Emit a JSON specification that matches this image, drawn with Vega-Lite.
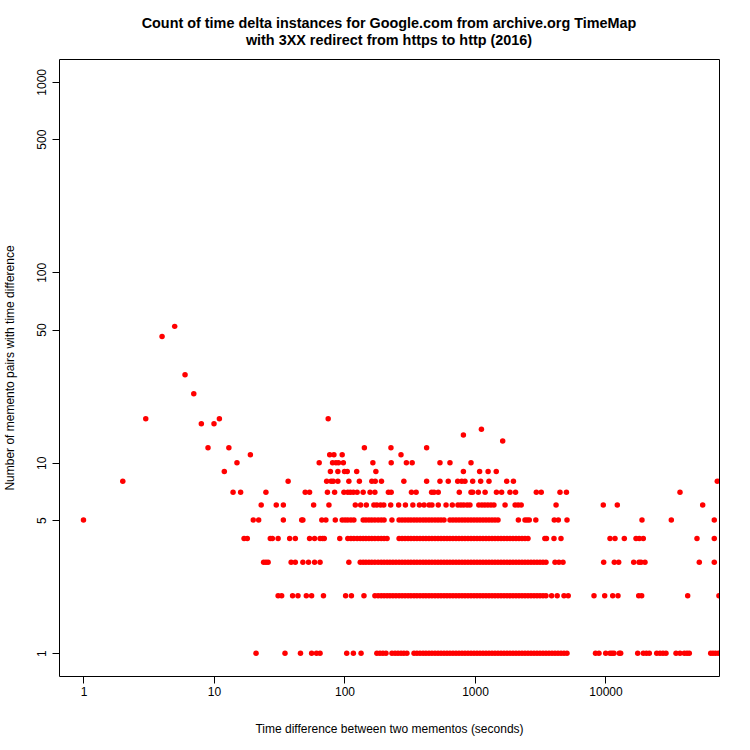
{
"$schema": "https://vega.github.io/schema/vega-lite/v6.json",
"autosize": "none",
"width": 660,
"height": 617,
"padding": {"top": 59, "left": 59, "right": 31, "bottom": 74},
"background": "white",
"config": {"view": {"stroke": "black", "strokeWidth": 1}, "font": "Liberation Sans"},
"title": {"text": ["Count of time delta instances for Google.com from archive.org TimeMap", "with 3XX redirect from https to http (2016)"], "fontSize": 14.4, "fontWeight": "bold", "font": "Liberation Sans", "color": "black", "anchor": "middle", "offset": 11, "lineHeight": 17},
"data": {"values": [
{"dt":21,"n":1},{"dt":35,"n":1},{"dt":46,"n":1},{"dt":56,"n":1},{"dt":61,"n":1},{"dt":65,"n":1},{"dt":104,"n":1},{"dt":117,"n":1},{"dt":134,"n":1},{"dt":177,"n":1},{"dt":187,"n":1},{"dt":197,"n":1},{"dt":208,"n":1},{"dt":231,"n":1},{"dt":244,"n":1},{"dt":257,"n":1},{"dt":271,"n":1},{"dt":285,"n":1},{"dt":301,"n":1},{"dt":341,"n":1},{"dt":359,"n":1},{"dt":379,"n":1},{"dt":400,"n":1},{"dt":421,"n":1},{"dt":444,"n":1},{"dt":468,"n":1},{"dt":494,"n":1},{"dt":521,"n":1},{"dt":549,"n":1},{"dt":579,"n":1},{"dt":610,"n":1},{"dt":643,"n":1},{"dt":678,"n":1},{"dt":715,"n":1},{"dt":754,"n":1},{"dt":795,"n":1},{"dt":838,"n":1},{"dt":884,"n":1},{"dt":932,"n":1},{"dt":983,"n":1},{"dt":1036,"n":1},{"dt":1092,"n":1},{"dt":1152,"n":1},{"dt":1214,"n":1},{"dt":1280,"n":1},{"dt":1350,"n":1},{"dt":1423,"n":1},{"dt":1501,"n":1},{"dt":1582,"n":1},{"dt":1668,"n":1},{"dt":1759,"n":1},{"dt":1854,"n":1},{"dt":1955,"n":1},{"dt":2062,"n":1},{"dt":2174,"n":1},{"dt":2292,"n":1},{"dt":2416,"n":1},{"dt":2548,"n":1},{"dt":2686,"n":1},{"dt":2832,"n":1},{"dt":2986,"n":1},{"dt":3148,"n":1},{"dt":3320,"n":1},{"dt":3500,"n":1},{"dt":3690,"n":1},{"dt":3891,"n":1},{"dt":4102,"n":1},{"dt":4325,"n":1},{"dt":4560,"n":1},{"dt":4808,"n":1},{"dt":5070,"n":1},{"dt":8382,"n":1},{"dt":8913,"n":1},{"dt":10035,"n":1},{"dt":10827,"n":1},{"dt":11215,"n":1},{"dt":11617,"n":1},{"dt":12756,"n":1},{"dt":13079,"n":1},{"dt":17651,"n":1},{"dt":19486,"n":1},{"dt":20576,"n":1},{"dt":21660,"n":1},{"dt":24688,"n":1},{"dt":26166,"n":1},{"dt":27590,"n":1},{"dt":29083,"n":1},{"dt":34690,"n":1},{"dt":37230,"n":1},{"dt":40168,"n":1},{"dt":42130,"n":1},{"dt":43870,"n":1},{"dt":63990,"n":1},{"dt":66650,"n":1},{"dt":69660,"n":1},{"dt":73160,"n":1},
{"dt":31,"n":2},{"dt":33,"n":2},{"dt":40,"n":2},{"dt":44,"n":2},{"dt":51,"n":2},{"dt":56,"n":2},{"dt":69,"n":2},{"dt":102,"n":2},{"dt":113,"n":2},{"dt":141,"n":2},{"dt":171,"n":2},{"dt":181,"n":2},{"dt":191,"n":2},{"dt":201,"n":2},{"dt":212,"n":2},{"dt":223,"n":2},{"dt":235,"n":2},{"dt":248,"n":2},{"dt":262,"n":2},{"dt":276,"n":2},{"dt":291,"n":2},{"dt":307,"n":2},{"dt":323,"n":2},{"dt":341,"n":2},{"dt":359,"n":2},{"dt":379,"n":2},{"dt":400,"n":2},{"dt":421,"n":2},{"dt":444,"n":2},{"dt":468,"n":2},{"dt":494,"n":2},{"dt":521,"n":2},{"dt":549,"n":2},{"dt":579,"n":2},{"dt":610,"n":2},{"dt":643,"n":2},{"dt":678,"n":2},{"dt":715,"n":2},{"dt":754,"n":2},{"dt":795,"n":2},{"dt":838,"n":2},{"dt":884,"n":2},{"dt":932,"n":2},{"dt":983,"n":2},{"dt":1036,"n":2},{"dt":1092,"n":2},{"dt":1152,"n":2},{"dt":1214,"n":2},{"dt":1280,"n":2},{"dt":1350,"n":2},{"dt":1423,"n":2},{"dt":1501,"n":2},{"dt":1582,"n":2},{"dt":1668,"n":2},{"dt":1759,"n":2},{"dt":1854,"n":2},{"dt":1955,"n":2},{"dt":2062,"n":2},{"dt":2174,"n":2},{"dt":2292,"n":2},{"dt":2416,"n":2},{"dt":2548,"n":2},{"dt":2686,"n":2},{"dt":2832,"n":2},{"dt":2986,"n":2},{"dt":3148,"n":2},{"dt":3320,"n":2},{"dt":3500,"n":2},{"dt":3865,"n":2},{"dt":4265,"n":2},{"dt":4808,"n":2},{"dt":5180,"n":2},{"dt":8164,"n":2},{"dt":9860,"n":2},{"dt":11355,"n":2},{"dt":12468,"n":2},{"dt":17965,"n":2},{"dt":18942,"n":2},{"dt":42650,"n":2},{"dt":74000,"n":2},
{"dt":24,"n":3},{"dt":25,"n":3},{"dt":26,"n":3},{"dt":39,"n":3},{"dt":42,"n":3},{"dt":48,"n":3},{"dt":53,"n":3},{"dt":59,"n":3},{"dt":65,"n":3},{"dt":108,"n":3},{"dt":132,"n":3},{"dt":139,"n":3},{"dt":146,"n":3},{"dt":154,"n":3},{"dt":162,"n":3},{"dt":171,"n":3},{"dt":181,"n":3},{"dt":191,"n":3},{"dt":201,"n":3},{"dt":212,"n":3},{"dt":223,"n":3},{"dt":235,"n":3},{"dt":248,"n":3},{"dt":262,"n":3},{"dt":276,"n":3},{"dt":291,"n":3},{"dt":307,"n":3},{"dt":323,"n":3},{"dt":341,"n":3},{"dt":359,"n":3},{"dt":379,"n":3},{"dt":400,"n":3},{"dt":421,"n":3},{"dt":444,"n":3},{"dt":468,"n":3},{"dt":494,"n":3},{"dt":521,"n":3},{"dt":549,"n":3},{"dt":579,"n":3},{"dt":610,"n":3},{"dt":643,"n":3},{"dt":678,"n":3},{"dt":715,"n":3},{"dt":754,"n":3},{"dt":795,"n":3},{"dt":838,"n":3},{"dt":884,"n":3},{"dt":932,"n":3},{"dt":983,"n":3},{"dt":1036,"n":3},{"dt":1092,"n":3},{"dt":1152,"n":3},{"dt":1214,"n":3},{"dt":1280,"n":3},{"dt":1350,"n":3},{"dt":1423,"n":3},{"dt":1501,"n":3},{"dt":1582,"n":3},{"dt":1668,"n":3},{"dt":1759,"n":3},{"dt":1854,"n":3},{"dt":1955,"n":3},{"dt":2062,"n":3},{"dt":2174,"n":3},{"dt":2292,"n":3},{"dt":2416,"n":3},{"dt":2548,"n":3},{"dt":2686,"n":3},{"dt":2832,"n":3},{"dt":2986,"n":3},{"dt":3148,"n":3},{"dt":3320,"n":3},{"dt":3500,"n":3},{"dt":4102,"n":3},{"dt":4400,"n":3},{"dt":4725,"n":3},{"dt":9683,"n":3},{"dt":11679,"n":3},{"dt":12622,"n":3},{"dt":16447,"n":3},{"dt":18060,"n":3},{"dt":18707,"n":3},{"dt":20075,"n":3},{"dt":52330,"n":3},{"dt":68180,"n":3},
{"dt":17,"n":4},{"dt":18,"n":4},{"dt":27,"n":4},{"dt":28,"n":4},{"dt":31,"n":4},{"dt":38,"n":4},{"dt":42,"n":4},{"dt":54,"n":4},{"dt":59,"n":4},{"dt":65,"n":4},{"dt":68,"n":4},{"dt":70,"n":4},{"dt":92,"n":4},{"dt":106,"n":4},{"dt":112,"n":4},{"dt":118,"n":4},{"dt":125,"n":4},{"dt":132,"n":4},{"dt":139,"n":4},{"dt":146,"n":4},{"dt":154,"n":4},{"dt":162,"n":4},{"dt":171,"n":4},{"dt":181,"n":4},{"dt":191,"n":4},{"dt":201,"n":4},{"dt":212,"n":4},{"dt":262,"n":4},{"dt":276,"n":4},{"dt":291,"n":4},{"dt":307,"n":4},{"dt":323,"n":4},{"dt":341,"n":4},{"dt":359,"n":4},{"dt":379,"n":4},{"dt":400,"n":4},{"dt":421,"n":4},{"dt":444,"n":4},{"dt":468,"n":4},{"dt":494,"n":4},{"dt":521,"n":4},{"dt":549,"n":4},{"dt":579,"n":4},{"dt":610,"n":4},{"dt":643,"n":4},{"dt":678,"n":4},{"dt":715,"n":4},{"dt":754,"n":4},{"dt":795,"n":4},{"dt":838,"n":4},{"dt":884,"n":4},{"dt":932,"n":4},{"dt":983,"n":4},{"dt":1036,"n":4},{"dt":1092,"n":4},{"dt":1152,"n":4},{"dt":1214,"n":4},{"dt":1280,"n":4},{"dt":1350,"n":4},{"dt":1423,"n":4},{"dt":1501,"n":4},{"dt":1582,"n":4},{"dt":1668,"n":4},{"dt":1759,"n":4},{"dt":1854,"n":4},{"dt":1955,"n":4},{"dt":2062,"n":4},{"dt":2174,"n":4},{"dt":2292,"n":4},{"dt":2416,"n":4},{"dt":2548,"n":4},{"dt":3430,"n":4},{"dt":3530,"n":4},{"dt":4030,"n":4},{"dt":4560,"n":4},{"dt":10829,"n":4},{"dt":11825,"n":4},{"dt":13937,"n":4},{"dt":17128,"n":4},{"dt":18155,"n":4},{"dt":19486,"n":4},{"dt":50240,"n":4},{"dt":68180,"n":4},
{"dt":1,"n":5},{"dt":20,"n":5},{"dt":22,"n":5},{"dt":34,"n":5},{"dt":47,"n":5},{"dt":48,"n":5},{"dt":67,"n":5},{"dt":72,"n":5},{"dt":85,"n":5},{"dt":96,"n":5},{"dt":101,"n":5},{"dt":106,"n":5},{"dt":112,"n":5},{"dt":118,"n":5},{"dt":139,"n":5},{"dt":146,"n":5},{"dt":154,"n":5},{"dt":162,"n":5},{"dt":171,"n":5},{"dt":181,"n":5},{"dt":191,"n":5},{"dt":201,"n":5},{"dt":231,"n":5},{"dt":262,"n":5},{"dt":276,"n":5},{"dt":291,"n":5},{"dt":307,"n":5},{"dt":323,"n":5},{"dt":341,"n":5},{"dt":359,"n":5},{"dt":379,"n":5},{"dt":400,"n":5},{"dt":421,"n":5},{"dt":444,"n":5},{"dt":468,"n":5},{"dt":494,"n":5},{"dt":521,"n":5},{"dt":549,"n":5},{"dt":579,"n":5},{"dt":643,"n":5},{"dt":678,"n":5},{"dt":715,"n":5},{"dt":754,"n":5},{"dt":795,"n":5},{"dt":838,"n":5},{"dt":884,"n":5},{"dt":932,"n":5},{"dt":983,"n":5},{"dt":1036,"n":5},{"dt":1092,"n":5},{"dt":1152,"n":5},{"dt":1214,"n":5},{"dt":1280,"n":5},{"dt":1350,"n":5},{"dt":1423,"n":5},{"dt":1501,"n":5},{"dt":2150,"n":5},{"dt":2416,"n":5},{"dt":2510,"n":5},{"dt":2605,"n":5},{"dt":2925,"n":5},{"dt":4050,"n":5},{"dt":4350,"n":5},{"dt":5070,"n":5},{"dt":19040,"n":5},{"dt":31940,"n":5},{"dt":68180,"n":5},
{"dt":23,"n":6},{"dt":30,"n":6},{"dt":34,"n":6},{"dt":58,"n":6},{"dt":76,"n":6},{"dt":121,"n":6},{"dt":133,"n":6},{"dt":147,"n":6},{"dt":168,"n":6},{"dt":177,"n":6},{"dt":189,"n":6},{"dt":200,"n":6},{"dt":226,"n":6},{"dt":260,"n":6},{"dt":293,"n":6},{"dt":334,"n":6},{"dt":375,"n":6},{"dt":407,"n":6},{"dt":445,"n":6},{"dt":468,"n":6},{"dt":523,"n":6},{"dt":600,"n":6},{"dt":670,"n":6},{"dt":740,"n":6},{"dt":780,"n":6},{"dt":820,"n":6},{"dt":870,"n":6},{"dt":915,"n":6},{"dt":1070,"n":6},{"dt":1130,"n":6},{"dt":1190,"n":6},{"dt":1255,"n":6},{"dt":1325,"n":6},{"dt":1397,"n":6},{"dt":1700,"n":6},{"dt":2030,"n":6},{"dt":2140,"n":6},{"dt":2260,"n":6},{"dt":4180,"n":6},{"dt":9616,"n":6},{"dt":12315,"n":6},{"dt":55560,"n":6},
{"dt":14,"n":7},{"dt":16,"n":7},{"dt":25,"n":7},{"dt":50,"n":7},{"dt":54,"n":7},{"dt":74,"n":7},{"dt":84,"n":7},{"dt":99,"n":7},{"dt":106,"n":7},{"dt":111,"n":7},{"dt":117,"n":7},{"dt":125,"n":7},{"dt":139,"n":7},{"dt":157,"n":7},{"dt":171,"n":7},{"dt":217,"n":7},{"dt":228,"n":7},{"dt":326,"n":7},{"dt":354,"n":7},{"dt":465,"n":7},{"dt":485,"n":7},{"dt":523,"n":7},{"dt":758,"n":7},{"dt":932,"n":7},{"dt":960,"n":7},{"dt":1060,"n":7},{"dt":1195,"n":7},{"dt":1460,"n":7},{"dt":1600,"n":7},{"dt":1854,"n":7},{"dt":2045,"n":7},{"dt":2950,"n":7},{"dt":3220,"n":7},{"dt":4480,"n":7},{"dt":5020,"n":7},{"dt":37230,"n":7},
{"dt":2,"n":8},{"dt":37,"n":8},{"dt":73,"n":8},{"dt":79,"n":8},{"dt":82,"n":8},{"dt":89,"n":8},{"dt":108,"n":8},{"dt":130,"n":8},{"dt":162,"n":8},{"dt":172,"n":8},{"dt":192,"n":8},{"dt":285,"n":8},{"dt":426,"n":8},{"dt":539,"n":8},{"dt":624,"n":8},{"dt":737,"n":8},{"dt":792,"n":8},{"dt":838,"n":8},{"dt":960,"n":8},{"dt":1105,"n":8},{"dt":1280,"n":8},{"dt":1750,"n":8},{"dt":1970,"n":8},{"dt":71900,"n":8},
{"dt":12,"n":9},{"dt":78,"n":9},{"dt":89,"n":9},{"dt":100,"n":9},{"dt":105,"n":9},{"dt":124,"n":9},{"dt":174,"n":9},{"dt":815,"n":9},{"dt":1085,"n":9},{"dt":1260,"n":9},{"dt":1455,"n":9},
{"dt":15,"n":10},{"dt":64,"n":10},{"dt":81,"n":10},{"dt":86,"n":10},{"dt":90,"n":10},{"dt":98,"n":10},{"dt":165,"n":10},{"dt":228,"n":10},{"dt":298,"n":10},{"dt":330,"n":10},{"dt":539,"n":10},{"dt":643,"n":10},{"dt":932,"n":10},
{"dt":19,"n":11},{"dt":77,"n":11},{"dt":83,"n":11},{"dt":96,"n":11},{"dt":271,"n":11},
{"dt":9,"n":12},{"dt":13,"n":12},{"dt":142,"n":12},{"dt":227,"n":12},{"dt":426,"n":12},
{"dt":1630,"n":13},{"dt":815,"n":14},{"dt":1120,"n":15},{"dt":8,"n":16},{"dt":10,"n":16},{"dt":3,"n":17},{"dt":11,"n":17},{"dt":75,"n":17},{"dt":7,"n":23},{"dt":6,"n":29},{"dt":4,"n":46},{"dt":5,"n":52}
]},
"mark": {"type": "point", "filled": true, "color": "#FF0000", "opacity": 1, "size": 30, "shape": "circle", "clip": true},
"encoding": {
"x": {"field": "dt", "type": "quantitative", "scale": {"type": "log", "domain": [0.6491, 74089], "nice": false, "zero": false},
"axis": {"values": [1, 10, 100, 1000, 10000], "format": "d", "grid": false, "domain": false, "tickColor": "black", "tickSize": 7, "labelPadding": 3, "labelFontSize": 12, "labelColor": "black", "labelFont": "Liberation Sans", "title": "Time difference between two mementos (seconds)", "titleFontSize": 12, "titleFontWeight": "normal", "titleColor": "black", "titleFont": "Liberation Sans", "titlePadding": 26}},
"y": {"field": "n", "type": "quantitative", "scale": {"type": "log", "domain": [0.75858, 1318.26], "nice": false, "zero": false},
"axis": {"values": [1, 5, 10, 50, 100, 500, 1000], "format": "d", "grid": false, "domain": false, "tickColor": "black", "tickSize": 7, "labelAngle": 270, "labelAlign": "center", "labelBaseline": "alphabetic", "labelPadding": 7, "labelFontSize": 12, "labelColor": "black", "labelFont": "Liberation Sans", "title": "Number of memento pairs with time difference", "titleFontSize": 12, "titleFontWeight": "normal", "titleColor": "black", "titleFont": "Liberation Sans", "titlePadding": 19}}
}
}
